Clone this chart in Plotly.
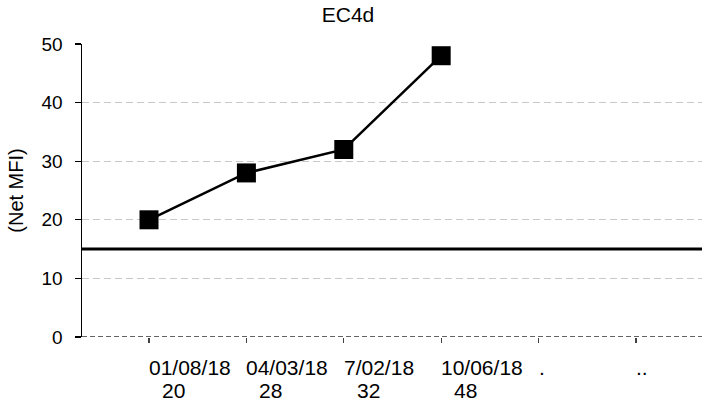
import plotly.graph_objects as go

title = "EC4d"
dates = ["01/08/18", "04/03/18", "7/02/18", "10/06/18", ".", ".."]
counts = ["20", "28", "32", "48", "", ""]
values = [20, 28, 32, 48, None, None]
threshold = 15
y_ticks = [0, 10, 20, 30, 40, 50]

FONT = "Liberation Sans, Arial, sans-serif"
xs = list(range(len(dates)))

W, H = 702, 405

fig = go.Figure()
fig.add_trace(go.Scatter(
    x=xs, y=values, mode="lines+markers",
    line=dict(color="black", width=2.5),
    marker=dict(symbol="square", size=19, color="black"),
    showlegend=False, hoverinfo="skip",
))

# threshold line
fig.add_shape(type="line", xref="paper", yref="y", x0=0, x1=1,
              y0=threshold, y1=threshold, line=dict(color="black", width=3))
# dashed baseline at 0
fig.add_shape(type="line", xref="paper", yref="y", x0=0, x1=1,
              y0=0, y1=0, line=dict(color="#303030", width=1.3, dash="5px,3px"))

# category labels (two rows, left-aligned at the tick)
for i, (d, c) in enumerate(zip(dates, counts)):
    fig.add_annotation(x=i, y=0, xref="x", yref="y", text=d, showarrow=False,
                       xanchor="left", yanchor="middle", yshift=-30, xshift=-2,
                       font=dict(family=FONT, size=21, color="black"))
    if c:
        fig.add_annotation(x=i, y=0, xref="x", yref="y", text=c, showarrow=False,
                           xanchor="left", yanchor="middle", yshift=-53, xshift=11,
                           font=dict(family=FONT, size=21, color="black"))

fig.update_layout(
    width=W, height=H,
    margin=dict(l=82, r=0, t=44, b=68, autoexpand=False),
    paper_bgcolor="white", plot_bgcolor="white",
    font=dict(family=FONT, color="black"),
    title=dict(text=title, x=348 / W, xref="container", xanchor="center",
               y=1 - 15 / H, yref="container", yanchor="middle",
               font=dict(family=FONT, size=21, color="black")),
    xaxis=dict(
        range=[-0.688, 5.678], tickmode="array", tickvals=xs,
        showticklabels=False, ticks="outside", ticklen=5, tickwidth=1.3,
        tickcolor="#404040", showgrid=False, zeroline=False, showline=False,
    ),
    yaxis=dict(
        range=[0, 50], tickmode="array", tickvals=y_ticks,
        ticktext=[str(v) for v in y_ticks],
        ticks="outside", ticklen=6, tickwidth=1.3, tickcolor="black",
        ticklabelstandoff=8, automargin=False,
        tickfont=dict(family=FONT, size=19, color="black"),
        showline=True, linecolor="black", linewidth=1.5,
        showgrid=True, gridcolor="#c8c8c8", gridwidth=1.3, griddash="7px,4px",
        zeroline=False,
        title=dict(text="(Net MFI)", standoff=12,
                   font=dict(family=FONT, size=20, color="black")),
    ),
)

fig.write_html(
    "out.html",
    config={"displayModeBar": False, "staticPlot": True},
    post_script="document.body.style.margin='0';document.body.style.overflow='hidden';",
)
